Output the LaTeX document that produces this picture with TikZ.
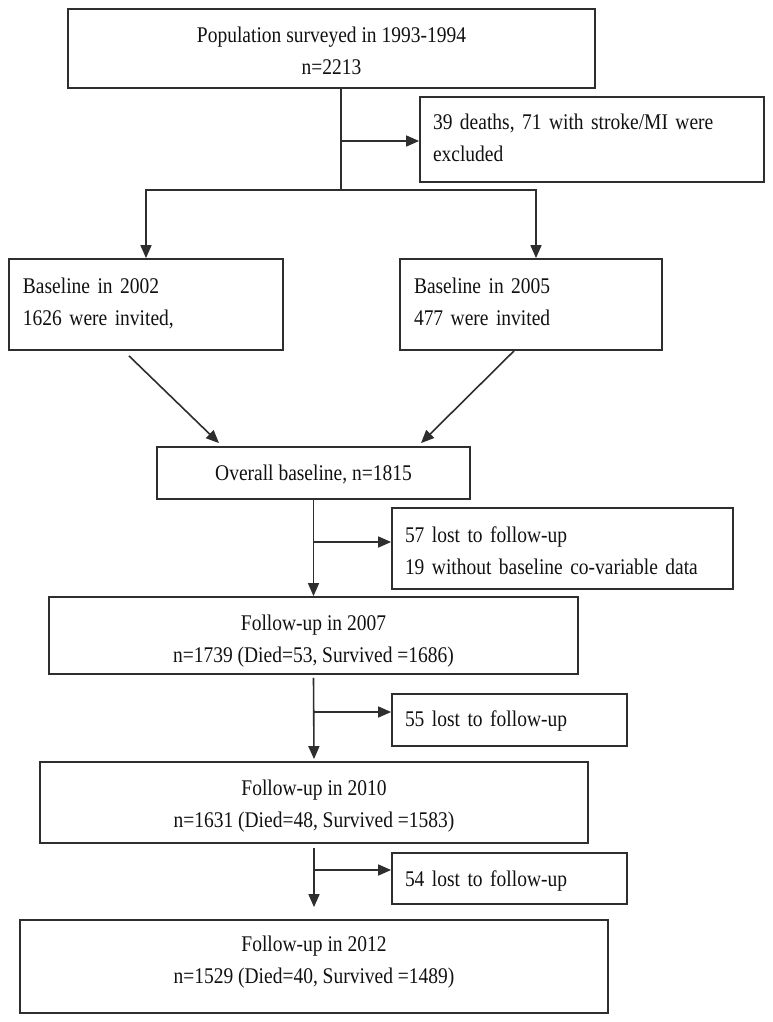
\documentclass[tikz,border=0pt]{standalone}
\usepackage{fontspec}
\setmainfont{Liberation Serif}[FakeStretch=0.87]
\usetikzlibrary{arrows.meta,calc}
\definecolor{lc}{HTML}{2E2E2E}
\definecolor{tc}{HTML}{111111}
\tikzset{
  box/.style={draw=lc, line width=1.8pt, rectangle, inner sep=0pt, text=tc,
    font=\fontsize{22.4}{32}\selectfont},
  cbox/.style={box, align=center},
  lbox/.style={box, align=left},
  conn/.style={draw=lc, line width=1.6pt},
  arr/.style={conn, -{Triangle[length=13pt,width=11pt]}},
}
\newcommand\hs[1]{\rule{0pt}{#1pt}}
\newcommand\ds[1]{\rule[-#1pt]{0pt}{#1pt}}
\begin{document}
\begin{tikzpicture}[x=1pt,y=-1pt]
\fill[white] (0,0) rectangle (772,1022);
\useasboundingbox (0,0) rectangle (772,1022);

\node[cbox, minimum width=527pt, minimum height=79pt] (top) at (331.5,48.5)
  {\hs{26}Population surveyed in 1993-1994\\n=2213\ds{5}};
\node[lbox, minimum width=344pt, minimum height=85pt, text width=318pt] (ex) at (592,139.5)
  {\hs{18}39 deaths, 71 with stroke/MI were\\excluded\ds{5}};
\node[lbox, minimum width=274pt, minimum height=91pt, text width=246pt] (b02) at (146,304.5)
  {\hs{16}Baseline in 2002\\1626 were invited,\ds{7}};
\node[lbox, minimum width=262pt, minimum height=91pt, text width=234pt] (b05) at (531,304.5)
  {\hs{16}Baseline in 2005\\477 were invited\ds{7}};
\node[cbox, minimum width=313pt, minimum height=52pt] (ov) at (313.5,473)
  {\hs{20}Overall baseline, n=1815\ds{4.6}};
\node[lbox, minimum width=341pt, minimum height=81pt, text width=315pt] (l1) at (562.5,548.5)
  {\hs{25.4}57 lost to follow-up\\19 without baseline co-variable data\ds{5}};
\node[cbox, minimum width=529pt, minimum height=77pt] (f07) at (313.5,635.5)
  {\hs{26}Follow-up in 2007\\n=1739 (Died=53, Survived =1686)\ds{5}};
\node[lbox, minimum width=235pt, minimum height=52pt, text width=209pt] (l2) at (509.5,720)
  {\hs{18.4}55 lost to follow-up\ds{5}};
\node[cbox, minimum width=548pt, minimum height=81pt] (f10) at (314,802.5)
  {\hs{22}Follow-up in 2010\\n=1631 (Died=48, Survived =1583)\ds{5}};
\node[lbox, minimum width=235pt, minimum height=51pt, text width=209pt] (l3) at (509.5,878.5)
  {\hs{21.4}54 lost to follow-up\ds{5}};
\node[cbox, minimum width=588pt, minimum height=93pt] (f12) at (314,966.5)
  {\hs{16}Follow-up in 2012\\n=1529 (Died=40, Survived =1489)\ds{13.6}};

% top split
\coordinate (j1) at (341,190);
\coordinate (e1) at (341,141);
\draw[conn] (j1 |- top.south) -- (j1);
\draw[arr] (e1) -- (e1 -| ex.west);
\draw[arr] (j1) -| (b02.north);
\draw[arr] (j1) -| ([xshift=5pt]b05.north);

% merge
\draw[arr] ([xshift=-17pt,yshift=-5pt]b02.south) -- ([xshift=-94.5pt,yshift=3pt]ov.north);
\draw[arr] ([xshift=-17pt]b05.south) -- ([xshift=107.5pt,yshift=3pt]ov.north);

% overall -> 2007
\coordinate (j2) at (313.5,542);
\draw[arr] (ov.south) -- (f07.north);
\draw[arr] (j2) -- (j2 -| l1.west);

% 2007 -> 2010
\coordinate (j3) at (313.5,712);
\draw[arr] ([yshift=-3pt]f07.south) -- ([yshift=2pt]f10.north);
\draw[arr] (j3) -- (j3 -| l2.west);

% 2010 -> 2012
\coordinate (j4) at (314,870);
\draw[arr] ([yshift=-4pt]f10.south) -- ([yshift=12pt]f12.north);
\draw[arr] (j4) -- (j4 -| l3.west);
\end{tikzpicture}
\end{document}
